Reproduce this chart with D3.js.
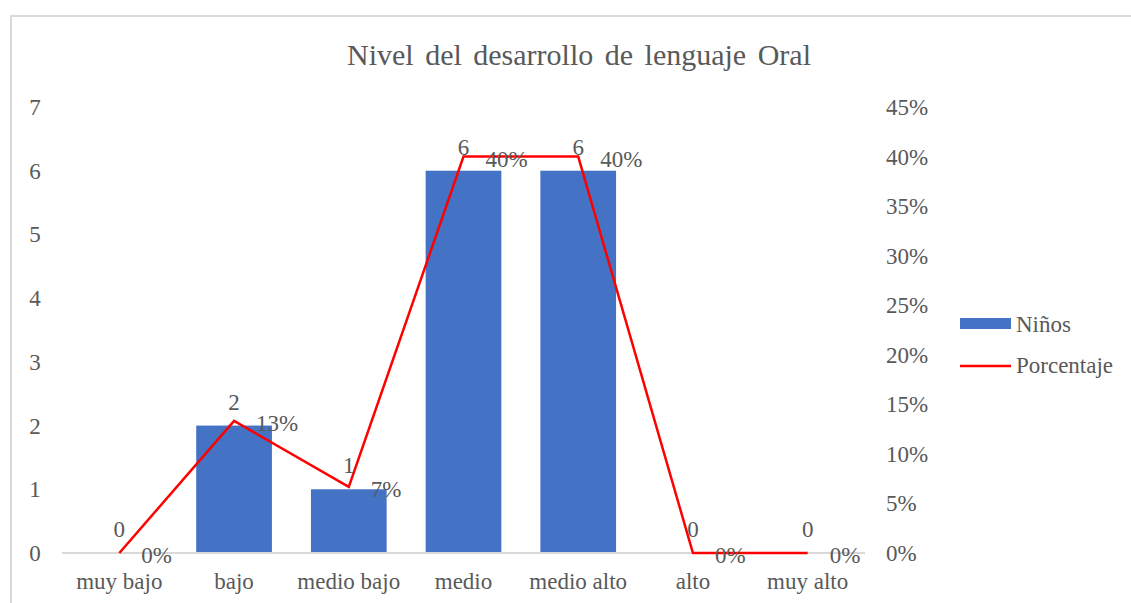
<!DOCTYPE html>
<html>
<head>
<meta charset="utf-8">
<script src="https://cdn.jsdelivr.net/npm/d3@7"></script>
<style>
    body { margin: 0; background: #fff; }
</style>
</head>
<body>
<div id="chart"></div>
<script>
// Data
var categories = ["muy bajo", "bajo", "medio bajo", "medio", "medio alto", "alto", "muy alto"];
var ninos = [0, 2, 1, 6, 6, 0, 0];
var porcentaje = [0, 0.1333, 0.0667, 0.40, 0.40, 0, 0];
var leftTicks = [0, 1, 2, 3, 4, 5, 6, 7];
var rightTicks = [0, 0.05, 0.10, 0.15, 0.20, 0.25, 0.30, 0.35, 0.40, 0.45];

var FONT = "'Liberation Serif'";
var TXT = "#595959";

function initializeChart() {
    d3.select("#chart").select("svg").remove();

    var W = 1131, H = 603;
    var plot = { left: 62, right: 865, top: 107, bottom: 553 };

    var svg = d3.select("#chart").append("svg")
        .attr("width", W)
        .attr("height", H)
        .attr("font-family", FONT);

    // chart border (only top and left visible in the reference)
    svg.append("path")
        .attr("d", "M11,603 L11,16 L1131,16")
        .attr("fill", "none")
        .attr("stroke", "#d9d9d9")
        .attr("stroke-width", 2);

    // Title
    svg.append("text")
        .attr("font-family", FONT)
        .attr("font-size", 30)
        .attr("fill", TXT)
        .attr("x", 579)
        .attr("y", 65)
        .attr("text-anchor", "middle")
        .attr("word-spacing", 4)
        .text("Nivel del desarrollo de lenguaje Oral");

    // Scales
    var x = d3.scaleBand()
        .domain(categories)
        .range([plot.left, plot.right])
        .padding(0);
    var yL = d3.scaleLinear().domain([0, 7]).range([plot.bottom, plot.top]);
    var yR = d3.scaleLinear().domain([0, 0.45]).range([plot.bottom, plot.top]);
    var barW = x.bandwidth() * 0.66;
    var cx = function (c) { return x(c) + x.bandwidth() / 2; };

    // Left axis labels
    svg.append("g").selectAll("text")
        .data(leftTicks)
        .enter().append("text")
        .attr("font-family", FONT).attr("font-size", 23).attr("fill", TXT)
        .attr("x", 35)
        .attr("y", d => yL(d) + 8)
        .attr("text-anchor", "middle")
        .text(d => d);

    // Right axis labels
    svg.append("g").selectAll("text")
        .data(rightTicks)
        .enter().append("text")
        .attr("font-family", FONT).attr("font-size", 23).attr("fill", TXT)
        .attr("x", 886)
        .attr("y", d => yR(d) + 8)
        .text(d => d3.format(".0%")(d));

    // Bars
    svg.append("g").selectAll("rect")
        .data(ninos)
        .enter().append("rect")
        .attr("x", (d, i) => cx(categories[i]) - barW / 2)
        .attr("y", d => yL(d))
        .attr("width", barW)
        .attr("height", d => yL(0) - yL(d))
        .attr("fill", "#4472c4");

    // X axis line
    svg.append("line")
        .attr("x1", plot.left).attr("x2", plot.right)
        .attr("y1", yL(0)).attr("y2", yL(0))
        .attr("stroke", "#d9d9d9")
        .attr("stroke-width", 2);

    // X labels
    svg.append("g").selectAll("text")
        .data(categories)
        .enter().append("text")
        .attr("font-family", FONT).attr("font-size", 23).attr("fill", TXT)
        .attr("x", d => cx(d))
        .attr("y", 589)
        .attr("text-anchor", "middle")
        .text(d => d);

    // Percentage line
    var line = d3.line()
        .x((d, i) => cx(categories[i]))
        .y(d => yR(d));
    svg.append("path")
        .datum(porcentaje)
        .attr("fill", "none")
        .attr("stroke", "#ff0000")
        .attr("stroke-width", 2.5)
        .attr("d", line);

    // Bar value labels
    svg.append("g").selectAll("text")
        .data(ninos)
        .enter().append("text")
        .attr("font-family", FONT).attr("font-size", 23).attr("fill", TXT)
        .attr("x", (d, i) => cx(categories[i]))
        .attr("y", d => yL(d) - 16)
        .attr("text-anchor", "middle")
        .text(d => d);

    // Percentage labels
    svg.append("g").selectAll("text")
        .data(porcentaje)
        .enter().append("text")
        .attr("font-family", FONT).attr("font-size", 23).attr("fill", TXT)
        .attr("x", (d, i) => cx(categories[i]) + 22)
        .attr("y", d => yR(d) + 10)
        .text(d => d3.format(".0%")(d));

    // Legend
    var legend = svg.append("g");
    legend.append("rect")
        .attr("x", 960).attr("y", 318)
        .attr("width", 51).attr("height", 11)
        .attr("fill", "#4472c4");
    legend.append("text")
        .attr("font-family", FONT).attr("font-size", 23).attr("fill", TXT)
        .attr("x", 1016).attr("y", 332)
        .text("Niños");
    legend.append("line")
        .attr("x1", 960).attr("x2", 1011)
        .attr("y1", 366).attr("y2", 366)
        .attr("stroke", "#ff0000")
        .attr("stroke-width", 2.5);
    legend.append("text")
        .attr("font-family", FONT).attr("font-size", 23).attr("fill", TXT)
        .attr("x", 1016).attr("y", 373)
        .text("Porcentaje");
}

initializeChart();
</script>
</body>
</html>
